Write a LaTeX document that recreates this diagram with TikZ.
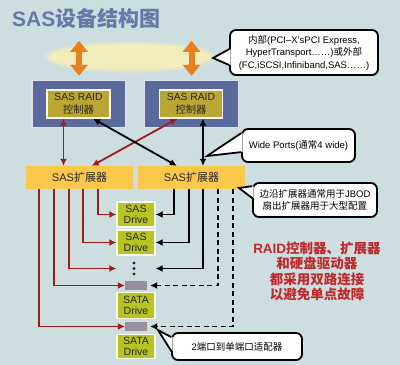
\documentclass[tikz,border=0pt]{standalone}
\usepackage{fontspec}
\setmainfont{Liberation Sans}
\newfontfamily\cjk{Noto Sans CJK SC}
\newcommand\zh[1]{{\cjk #1}}
\usetikzlibrary{arrows.meta,calc,shapes.geometric}
\definecolor{bg}{RGB}{205,222,224}
\definecolor{titlec}{RGB}{104,120,168}
\definecolor{ctrlc}{RGB}{91,106,156}
\definecolor{raidc}{RGB}{186,166,52}
\definecolor{expc}{RGB}{251,200,76}
\definecolor{drivec}{RGB}{184,196,34}
\definecolor{connc}{RGB}{154,143,160}
\definecolor{redl}{RGB}{163,26,26}
\definecolor{redt}{RGB}{192,40,42}
\definecolor{orangec}{RGB}{232,128,30}
\definecolor{busc}{RGB}{243,237,188}
\newcommand\calloutptr[4]{%
  \fill[white] ($(#1.north west)+(1.5,#2)$) -- (#4) -- ($(#1.north west)+(1.5,#3)$) -- cycle;
  \draw[cline] ($(#1.north west)+(0.2,#2)$) -- (#4) -- ($(#1.north west)+(0.2,#3)$);}
\begin{document}
\begin{tikzpicture}[x=1pt,y=-1pt,
  ctrlbox/.style={draw=white!80!ctrlc,line width=1.4pt,fill=ctrlc,minimum width=94pt,minimum height=47pt,inner sep=0pt},
  raidbox/.style={draw=white!90!raidc,line width=1.4pt,fill=raidc,minimum width=63pt,minimum height=28pt,inner sep=0pt,align=center,font=\fontsize{10.3}{12.5}\selectfont,text=black!85},
  expbox/.style={fill=expc,minimum width=107pt,minimum height=23pt,inner sep=0pt,font=\fontsize{11}{13}\selectfont,text=black!85},
  drivebox/.style={draw=white!90!drivec,line width=1.4pt,fill=drivec,minimum width=38pt,minimum height=25pt,inner sep=0pt,align=center,font=\fontsize{10.5}{11.5}\selectfont,text=black!85},
  connbox/.style={fill=connc,minimum width=22pt,minimum height=9pt,inner sep=0pt},
  cline/.style={line width=1.8pt,black,line join=miter},
  callout/.style={draw,line width=1.8pt,rounded corners=6pt,fill=white,inner sep=0pt,align=center,font=\fontsize{9.5}{12.5}\selectfont},
  tip/.style={Latex[length=7pt,width=7pt]},
  redarr/.style={draw=redl,line width=1.8pt,-{Latex[length=7pt,width=7pt]}},
  blkarr/.style={draw=black,line width=1.8pt,-{Latex[length=7pt,width=7pt]}},
  dasharr/.style={draw=black,line width=1.8pt,dash pattern=on 5pt off 3.5pt,-{Latex[length=7pt,width=7pt]}},
  redarr2/.style={draw=redl,line width=1.8pt,{Latex[length=7pt,width=7pt]}-{Latex[length=7pt,width=7pt]}},
  blkarr2/.style={draw=black,line width=1.8pt,{Latex[length=7pt,width=7pt]}-{Latex[length=7pt,width=7pt]}},
  orarr/.style={draw=orangec,line width=6pt,{Triangle[length=11pt,width=17pt]}-{Triangle[length=11pt,width=17pt]}}
]
\useasboundingbox (0,0) rectangle (400,365);
\fill[bg] (0,0) rectangle (400,365);

% title
\node[anchor=west,inner sep=0pt,text=titlec,font=\bfseries\fontsize{21}{24}\selectfont] (title) at (12,18.5) {SAS\zh{设备结构图}};

% bus ellipse (soft edge)
\node[ellipse,minimum width=172pt,minimum height=32pt,fill=busc,opacity=0.3,inner sep=0pt] (busA) at (130,57) {};
\node[ellipse,minimum width=166pt,minimum height=29pt,fill=busc,opacity=0.5,inner sep=0pt] (busB) at (130,57) {};
\node[ellipse,minimum width=160pt,minimum height=25pt,fill=busc,inner sep=0pt] (bus) at (130,57) {};

% controllers
\node[ctrlbox] (ctrlL) at (79,104) {};
\node[ctrlbox] (ctrlR) at (191.5,104) {};
\node[raidbox] (raidL) at (78.5,104) {SAS RAID\\\zh{控制器}};
\node[raidbox] (raidR) at (191,104) {SAS RAID\\\zh{控制器}};

% orange arrows
\draw[orarr] ([yshift=39pt]ctrlL.north) -- ([yshift=4pt]ctrlL.north);
\draw[orarr] ([yshift=39pt]ctrlR.north) -- ([yshift=4pt]ctrlR.north);

% expanders
\node[expbox] (expL) at (79.5,177.5) {SAS\zh{扩展器}};
\node[expbox] (expR) at (191.5,177.5) {SAS\zh{扩展器}};

% controller-expander links
\draw[redarr2] ([xshift=-15pt]raidL.south) -- ([xshift=-16pt]expL.north);
\draw[redarr2] ([xshift=18.5pt]raidR.south west) -- ([xshift=66pt]expL.north west);
\draw[blkarr2] ([xshift=-17.5pt]raidL.south east) -- ([xshift=39pt]expR.north west);
\draw[blkarr2] ([xshift=12pt]raidR.south) -- ([xshift=11.5pt]expR.north);

% drives
\node[drivebox] (sas1) at (136,214.5) {SAS\\Drive};
\node[drivebox] (sas2) at (136,242.5) {SAS\\Drive};
\node[minimum width=6pt,minimum height=16pt,inner sep=0pt] (dots) at (134,268.5) {};
\fill[black!85] ([yshift=5.5pt]dots.center) circle (1.6pt) (dots.center) circle (1.6pt) ([yshift=-5.5pt]dots.center) circle (1.6pt);
\node[connbox] (conn1) at (136,285.5) {};
\node[drivebox,minimum height=26pt] (sata1) at (136,305.5) {SATA\\Drive};
\node[connbox] (conn2) at (136,326.5) {};
\node[drivebox,minimum height=24pt] (sata2) at (136,346.5) {SATA\\Drive};

% red links from left expander
\draw[redarr] ([xshift=72pt]expL.south west) |- (sas1.west);
\draw[redarr] ([xshift=57pt]expL.south west) |- (sas2.west);
\draw[redarr] ([xshift=43pt]expL.south west) |- (sas2.west |- dots.center);
\draw[redarr] ([xshift=28pt]expL.south west) |- (conn1.west);
\draw[redarr] ([xshift=13pt]expL.south west) |- (conn2.west);

% black links from right expander
\draw[blkarr] ([xshift=36pt]expR.south west) |- (sas1.east);
\draw[blkarr] ([xshift=51pt]expR.south west) |- (sas2.east);
\draw[blkarr] ([xshift=65pt]expR.south west) |- (sas2.east |- dots.center);
\draw[dasharr] ([xshift=80pt]expR.south west) |- ([xshift=3pt]conn1.east);
\draw[dasharr] ([xshift=95pt]expR.south west) |- ([xshift=3pt]conn2.east);

% callouts
\node[callout,minimum width=148pt,minimum height=45pt] (c1) at (304,52.5) {\zh{内部}(PCI–X’sPCI Express,\\HyperTransport……)\zh{或外部}\\(FC,iSCSI,Infiniband,SAS……)};
\coordinate (c1tip) at (213,58);
\calloutptr{c1}{20}{36}{c1tip}

\node[callout,minimum width=113pt,minimum height=33pt] (c2) at (298.5,145.5) {Wide Ports(\zh{通常}4 wide)};
\coordinate (c2tip) at (207,156);
\calloutptr{c2}{5}{24}{c2tip}

\node[callout,minimum width=124pt,minimum height=34pt] (c3) at (315,200) {\zh{边沿扩展器通常用于}JBOD\\\zh{扇出扩展器用于大型配置}};
\coordinate (c3tip) at (239,188);
\calloutptr{c3}{4}{16}{c3tip}

\node[callout,minimum width=130pt,minimum height=27pt] (c4) at (237,346.5) {2\zh{端口到单端口适配器}};
\coordinate (c4tip) at (158,330);
\calloutptr{c4}{5}{19}{c4tip}

% red note
\node[align=center,text=redt,font=\bfseries\fontsize{13.5}{15.5}\selectfont,inner sep=0pt] (note) at (317,271.5) {RAID\zh{控制器、扩展器}\\\zh{和硬盘驱动器}\\\zh{都采用双路连接}\\\zh{以避免单点故障}};
\end{tikzpicture}
\end{document}
